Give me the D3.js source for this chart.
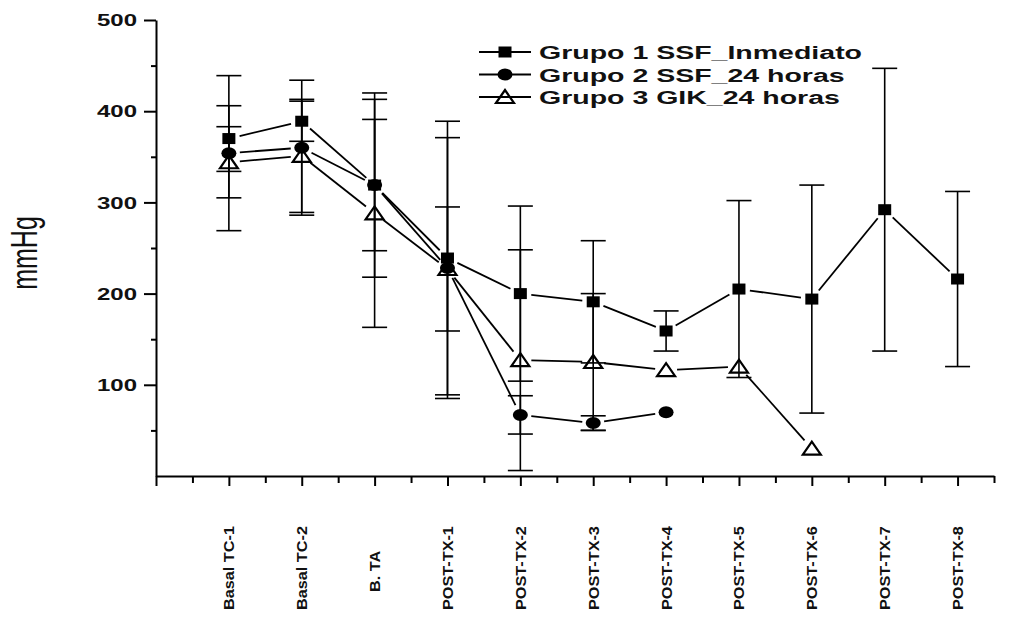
<!DOCTYPE html>
<html>
<head>
<meta charset="utf-8">
<script src="https://cdn.jsdelivr.net/npm/d3@7/dist/d3.min.js"></script>
<style>
  html, body { margin: 0; padding: 0; background: #fff; }
  svg { display: block; font-family: "Liberation Sans", Arial, sans-serif; }
</style>
</head>
<body>
<svg id="chart" width="1023" height="618"></svg>
<script>
// Time points of the measurement protocol
const categories = ["Basal TC-1", "Basal TC-2", "B. TA", "POST-TX-1", "POST-TX-2",
  "POST-TX-3", "POST-TX-4", "POST-TX-5", "POST-TX-6", "POST-TX-7", "POST-TX-8"];

// Group means (mmHg) and their ± deviation; null = no bar
const grupo1 = [370, 389, 319, 239, 200, 191, 159, 205, 194, 292, 216];
const grupo1Err = [36, 22, 101, 150, 96, 67, 22, 97, 125, 155, 96];
const grupo2 = [354, 360, 319, 228, 67, 58, 70];
const grupo2Err = [85, 74, 72, 143, 21, 8, null];
const grupo3 = [344, 351, 288, 227, 127, 125, 116, 120, 30];
const grupo3Err = [39, 62, 125, 68, 121, 75, null, null, null];

const seriesNames = ["Grupo 1 SSF_Inmediato", "Grupo 2 SSF_24 horas", "Grupo 3 GIK_24 horas"];
const yTicks = [100, 200, 300, 400, 500];
const yMinorTicks = [50, 150, 250, 350, 450];

const series = [
  { name: seriesNames[0], values: grupo1, err: grupo1Err, shape: "square" },
  { name: seriesNames[1], values: grupo2, err: grupo2Err, shape: "circle" },
  { name: seriesNames[2], values: grupo3, err: grupo3Err, shape: "triangle" }
];

const svg = d3.select("#chart");
const SX = 1.5; // horizontal glyph stretch used throughout the figure

const x = d3.scaleLinear().domain([0, 11.5]).range([156, 994]);
const y = d3.scaleLinear().domain([0, 500]).range([476, 20]);

// ---- axes ----
const yAxis = svg.append("g").attr("transform", `translate(${x(0)},0)`)
  .call(d3.axisLeft(y).tickValues(yTicks).tickSize(12).tickSizeOuter(0).tickFormat(d3.format("d")));
yAxis.select(".domain").attr("stroke-width", 2);
yAxis.selectAll(".tick line").attr("stroke-width", 2);
yAxis.selectAll(".tick text")
  .attr("x", -19 / SX).attr("dy", "0.36em")
  .attr("transform", `scale(${SX},1)`)
  .attr("font-size", 16).attr("font-weight", "bold").attr("fill", "#111")
  .attr("font-family", "Liberation Sans, Arial, sans-serif");

svg.append("g").attr("transform", `translate(${x(0)},0)`)
  .call(d3.axisLeft(y).tickValues(yMinorTicks).tickSize(5).tickFormat(""))
  .call(g => g.select(".domain").remove())
  .selectAll(".tick line").attr("stroke-width", 2);

const xMinor = d3.range(0, 12).map(i => i + 0.5);
svg.append("g").attr("transform", `translate(0,${y(0)})`)
  .call(d3.axisBottom(x).tickValues(xMinor).tickSize(7).tickSizeOuter(0).tickFormat(""))
  .call(g => g.select(".domain").attr("stroke-width", 2))
  .selectAll(".tick line").attr("stroke-width", 2);

const xAxis = svg.append("g").attr("transform", `translate(0,${y(0)})`)
  .call(d3.axisBottom(x).tickValues(d3.range(0, 12)).tickSize(10).tickSizeOuter(0)
    .tickFormat(i => categories[i - 1] || ""));
xAxis.select(".domain").remove();
xAxis.selectAll(".tick line").attr("stroke-width", 2);
// vertical labels; the short label sits a little higher than the long ones
xAxis.selectAll(".tick text")
  .attr("x", 0).attr("y", 0).attr("dy", 0)
  .attr("text-anchor", "start")
  .attr("transform", function () {
    const base = this.textContent.length < 6 ? 116 : 134;
    return `translate(5,${base}) rotate(-90) scale(1.16,1)`;
  })
  .attr("font-size", 14).attr("font-weight", "bold").attr("fill", "#111")
  .attr("font-family", "Liberation Sans, Arial, sans-serif");

// y axis title
svg.append("text")
  .attr("transform", `translate(37,253) rotate(-90) scale(1,1.45)`)
  .attr("text-anchor", "middle")
  .attr("font-size", 25)
  .attr("fill", "#111")
  .text("mmHg");

// ---- marker drawing ----
function drawMarker(g, shape, cx, cy) {
  if (shape === "square") {
    g.append("rect").attr("x", cx - 6.5).attr("y", cy - 5.5)
      .attr("width", 13).attr("height", 11).attr("fill", "#000");
  } else if (shape === "circle") {
    g.append("ellipse").attr("cx", cx).attr("cy", cy)
      .attr("rx", 7.5).attr("ry", 6).attr("fill", "#000");
  } else {
    g.append("path")
      .attr("d", `M${cx - 9},${cy + 6}L${cx},${cy - 7}L${cx + 9},${cy + 6}Z`)
      .attr("fill", "none").attr("stroke", "#000").attr("stroke-width", 2.2)
      .attr("stroke-linejoin", "miter");
  }
}

const plot = svg.append("g");

// error bars
const capHalf = 12.5;
series.forEach(s => {
  s.values.forEach((v, i) => {
    const e = s.err[i];
    if (e == null) return;
    const cx = x(i + 1);
    const g = plot.append("g").attr("stroke", "#000").attr("stroke-width", 1.6);
    g.append("line").attr("x1", cx).attr("x2", cx).attr("y1", y(v + e)).attr("y2", y(v - e));
    g.append("line").attr("x1", cx - capHalf).attr("x2", cx + capHalf).attr("y1", y(v + e)).attr("y2", y(v + e));
    g.append("line").attr("x1", cx - capHalf).attr("x2", cx + capHalf).attr("y1", y(v - e)).attr("y2", y(v - e));
  });
});

// connecting lines, stopping short of each marker
const gap = 11;
series.forEach(s => {
  for (let i = 0; i < s.values.length - 1; i++) {
    const x1 = x(i + 1), y1 = y(s.values[i]);
    const x2 = x(i + 2), y2 = y(s.values[i + 1]);
    const len = Math.hypot(x2 - x1, y2 - y1);
    const ux = (x2 - x1) / len, uy = (y2 - y1) / len;
    plot.append("line")
      .attr("x1", x1 + ux * gap).attr("y1", y1 + uy * gap)
      .attr("x2", x2 - ux * gap).attr("y2", y2 - uy * gap)
      .attr("stroke", "#000").attr("stroke-width", 1.8);
  }
});

// markers (drawn so that group 1 ends on top)
[series[2], series[1], series[0]].forEach(s => {
  const g = plot.append("g");
  s.values.forEach((v, i) => drawMarker(g, s.shape, x(i + 1), y(v)));
});

// ---- legend ----
const legend = svg.append("g");
series.forEach((s, k) => {
  const ly = 52 + k * 22.5;
  const lx = 479;
  legend.append("line").attr("x1", lx).attr("x2", lx + 52).attr("y1", ly).attr("y2", ly)
    .attr("stroke", "#000").attr("stroke-width", 1.8);
  drawMarker(legend, s.shape, lx + 26, ly);
  legend.append("text")
    .attr("transform", `translate(${lx + 60},${ly + 7}) scale(${SX},1)`)
    .attr("font-size", 19).attr("font-weight", "bold").attr("fill", "#111")
    .text(s.name);
});
</script>
</body>
</html>
